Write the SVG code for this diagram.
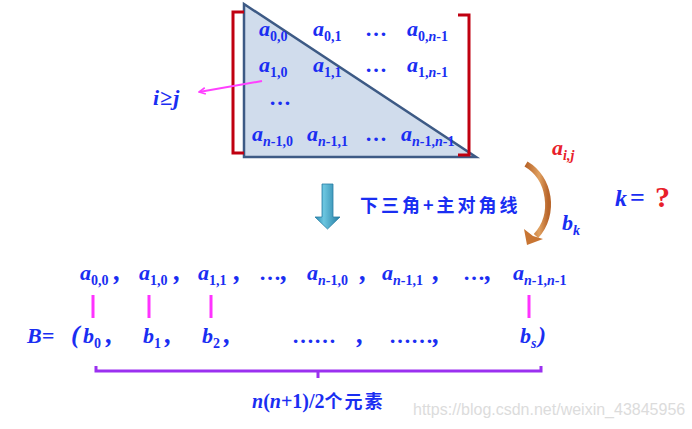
<svg xmlns="http://www.w3.org/2000/svg" width="692" height="429" viewBox="0 0 692 429">
<defs>
<style>
.t{font-family:"Liberation Serif","Times New Roman",serif;font-weight:bold;fill:#1a2ef2}
.i{font-style:italic}
.a{font-size:22px}
.s{font-size:14px}
.c{font-size:27px;font-style:italic}
.red{fill:#e8202a}
.cjk{font-family:"Noto Sans CJK SC",sans-serif;font-weight:bold;fill:#1a2ef2}
.tick{stroke:#ff33ff;stroke-width:3}
</style>
<linearGradient id="blueArrow" x1="0" y1="0" x2="1" y2="0">
<stop offset="0" stop-color="#2a88b0"/>
<stop offset="0.35" stop-color="#6cc6e0"/>
<stop offset="1" stop-color="#237ca3"/>
</linearGradient>
<linearGradient id="brown" x1="0" y1="0" x2="1" y2="0">
<stop offset="0" stop-color="#b8652a"/>
<stop offset="0.6" stop-color="#e0a060"/>
<stop offset="1" stop-color="#b8652a"/>
</linearGradient>
<marker id="mag" viewBox="0 0 10 10" refX="9" refY="5" markerWidth="8" markerHeight="8" orient="auto" markerUnits="userSpaceOnUse">
<path d="M1,1 L9,5 L1,9" fill="none" stroke="#ff40ff" stroke-width="2"/>
</marker>
</defs>

<g id="matrix">
<polygon points="244,4 244,157 476,157" fill="#d0dcec" stroke="#3d5a85" stroke-width="2.5"/>
<path d="M244,12 L233,12 L233,153 L244,153" fill="none" stroke="#c00010" stroke-width="3"/>
<path d="M458,15 L469,15 L469,155 L458,155" fill="none" stroke="#c00010" stroke-width="3"/>
<text class="t a" x="259" y="36"><tspan class="i">a</tspan><tspan class="s" dy="5">0,0</tspan></text>
<text class="t a" x="313" y="36"><tspan class="i">a</tspan><tspan class="s" dy="5">0,1</tspan></text>
<text class="t a" x="365" y="36">…</text>
<text class="t a" x="407" y="36"><tspan class="i">a</tspan><tspan class="s" dy="5">0,<tspan class="i">n</tspan>-1</tspan></text>
<text class="t a" x="259" y="72"><tspan class="i">a</tspan><tspan class="s" dy="5">1,0</tspan></text>
<text class="t a" x="313" y="72"><tspan class="i">a</tspan><tspan class="s" dy="5">1,1</tspan></text>
<text class="t a" x="365" y="72">…</text>
<text class="t a" x="407" y="72"><tspan class="i">a</tspan><tspan class="s" dy="5">1,<tspan class="i">n</tspan>-1</tspan></text>
<text class="t a" x="269" y="105">…</text>
<text class="t a" x="252" y="141"><tspan class="i">a</tspan><tspan class="s" dy="5"><tspan class="i">n</tspan>-1,0</tspan></text>
<text class="t a" x="307" y="141"><tspan class="i">a</tspan><tspan class="s" dy="5"><tspan class="i">n</tspan>-1,1</tspan></text>
<text class="t a" x="365" y="141">…</text>
<text class="t a" x="401" y="141"><tspan class="i">a</tspan><tspan class="s" dy="5"><tspan class="i">n</tspan>-1,<tspan class="i">n</tspan>-1</tspan></text>
</g>

<g id="cond">
<text class="t i" x="153" y="105" font-size="22" letter-spacing="1">i≥j</text>
</g>

<g id="transform">
<path d="M322,184 L333,184 L333,217 L340,217 L327.5,229 L315,217 L322,217 Z" fill="url(#blueArrow)" stroke="#2a7fa5" stroke-width="0.8"/>
<text class="cjk" x="360" y="212" font-size="18" letter-spacing="3">下三角+主对角线</text>
</g>

<g id="mapping">
<text class="t a red" x="552" y="155"><tspan class="i">a</tspan><tspan class="s i" dy="5">i,j</tspan></text>
<text class="t a" x="562" y="230"><tspan class="i">b</tspan><tspan class="s i" dy="5">k</tspan></text>
<path d="M526,164 C550,178 556,214 536,236" fill="none" stroke="url(#brown)" stroke-width="6"/>
<polygon points="527,245 524,229 533,236 543,239" fill="#c87533"/>
</g>

<g id="question">
<text class="t i" x="615" y="206" font-size="24">k</text>
<text class="t" x="630" y="206" font-size="26">=</text>
<text class="t red" x="655" y="207" font-size="30">?</text>
</g>

<g id="sequence">
<text class="t a" x="80" y="280"><tspan class="i">a</tspan><tspan class="s" dy="5">0,0</tspan></text>
<text class="t c" x="114" y="280">,</text>
<text class="t a" x="139" y="280"><tspan class="i">a</tspan><tspan class="s" dy="5">1,0</tspan></text>
<text class="t c" x="174" y="280">,</text>
<text class="t a" x="198" y="280"><tspan class="i">a</tspan><tspan class="s" dy="5">1,1</tspan></text>
<text class="t c" x="234" y="280">,</text>
<text class="t a" x="259" y="280">…<tspan class="c">,</tspan></text>
<text class="t a" x="307" y="280"><tspan class="i">a</tspan><tspan class="s" dy="5"><tspan class="i">n</tspan>-1,0</tspan></text>
<text class="t c" x="360" y="280">,</text>
<text class="t a" x="382" y="280"><tspan class="i">a</tspan><tspan class="s" dy="5"><tspan class="i">n</tspan>-1,1</tspan></text>
<text class="t c" x="433" y="280">,</text>
<text class="t a" x="463" y="280">…<tspan class="c">,</tspan></text>
<text class="t a" x="513" y="280"><tspan class="i">a</tspan><tspan class="s" dy="5"><tspan class="i">n</tspan>-1,<tspan class="i">n</tspan>-1</tspan></text>
</g>

<g id="connectors">
<line class="tick" x1="93" y1="295" x2="93" y2="318"/>
<line class="tick" x1="149" y1="295" x2="149" y2="318"/>
<line class="tick" x1="211" y1="295" x2="211" y2="318"/>
<line class="tick" x1="529" y1="295" x2="529" y2="318"/>
<line x1="262" y1="81" x2="199" y2="92" stroke="#ff40ff" stroke-width="2" marker-end="url(#mag)"/>
</g>

<g id="vectorB">
<text class="t a i" x="27" y="343">B=</text>
<text class="t i" x="71" y="343" font-size="26">(</text>
<text class="t a" x="83" y="343"><tspan class="i">b</tspan><tspan class="s" dy="5">0</tspan></text>
<text class="t c" x="106" y="343">,</text>
<text class="t a" x="143" y="343"><tspan class="i">b</tspan><tspan class="s" dy="5">1</tspan></text>
<text class="t c" x="165" y="343">,</text>
<text class="t a" x="202" y="343"><tspan class="i">b</tspan><tspan class="s" dy="5">2</tspan></text>
<text class="t c" x="224" y="343">,</text>
<text class="t a" x="292" y="343">……</text>
<text class="t c" x="357" y="343">,</text>
<text class="t a" x="389" y="343">……<tspan class="c">,</tspan></text>
<text class="t a" x="520" y="343"><tspan class="i">b</tspan><tspan class="s i" dy="5">s</tspan></text>
<text class="t i" x="538" y="343" font-size="24">)</text>
</g>

<g id="count">
<path d="M96,366 L96,371 L541,371 L541,366 M318,371 L318,378" fill="none" stroke="#9b30f0" stroke-width="3"/>
<text class="t" x="252" y="408" font-size="20"><tspan class="i">n</tspan>(<tspan class="i">n</tspan>+1)/2<tspan class="cjk" font-size="18" letter-spacing="2">个元素</tspan></text>
</g>

<text x="413" y="415" font-family="Liberation Sans,Arial,sans-serif" font-size="16" fill="#dcdcdc">https://blog.csdn.net/weixin_43845956</text>
</svg>
